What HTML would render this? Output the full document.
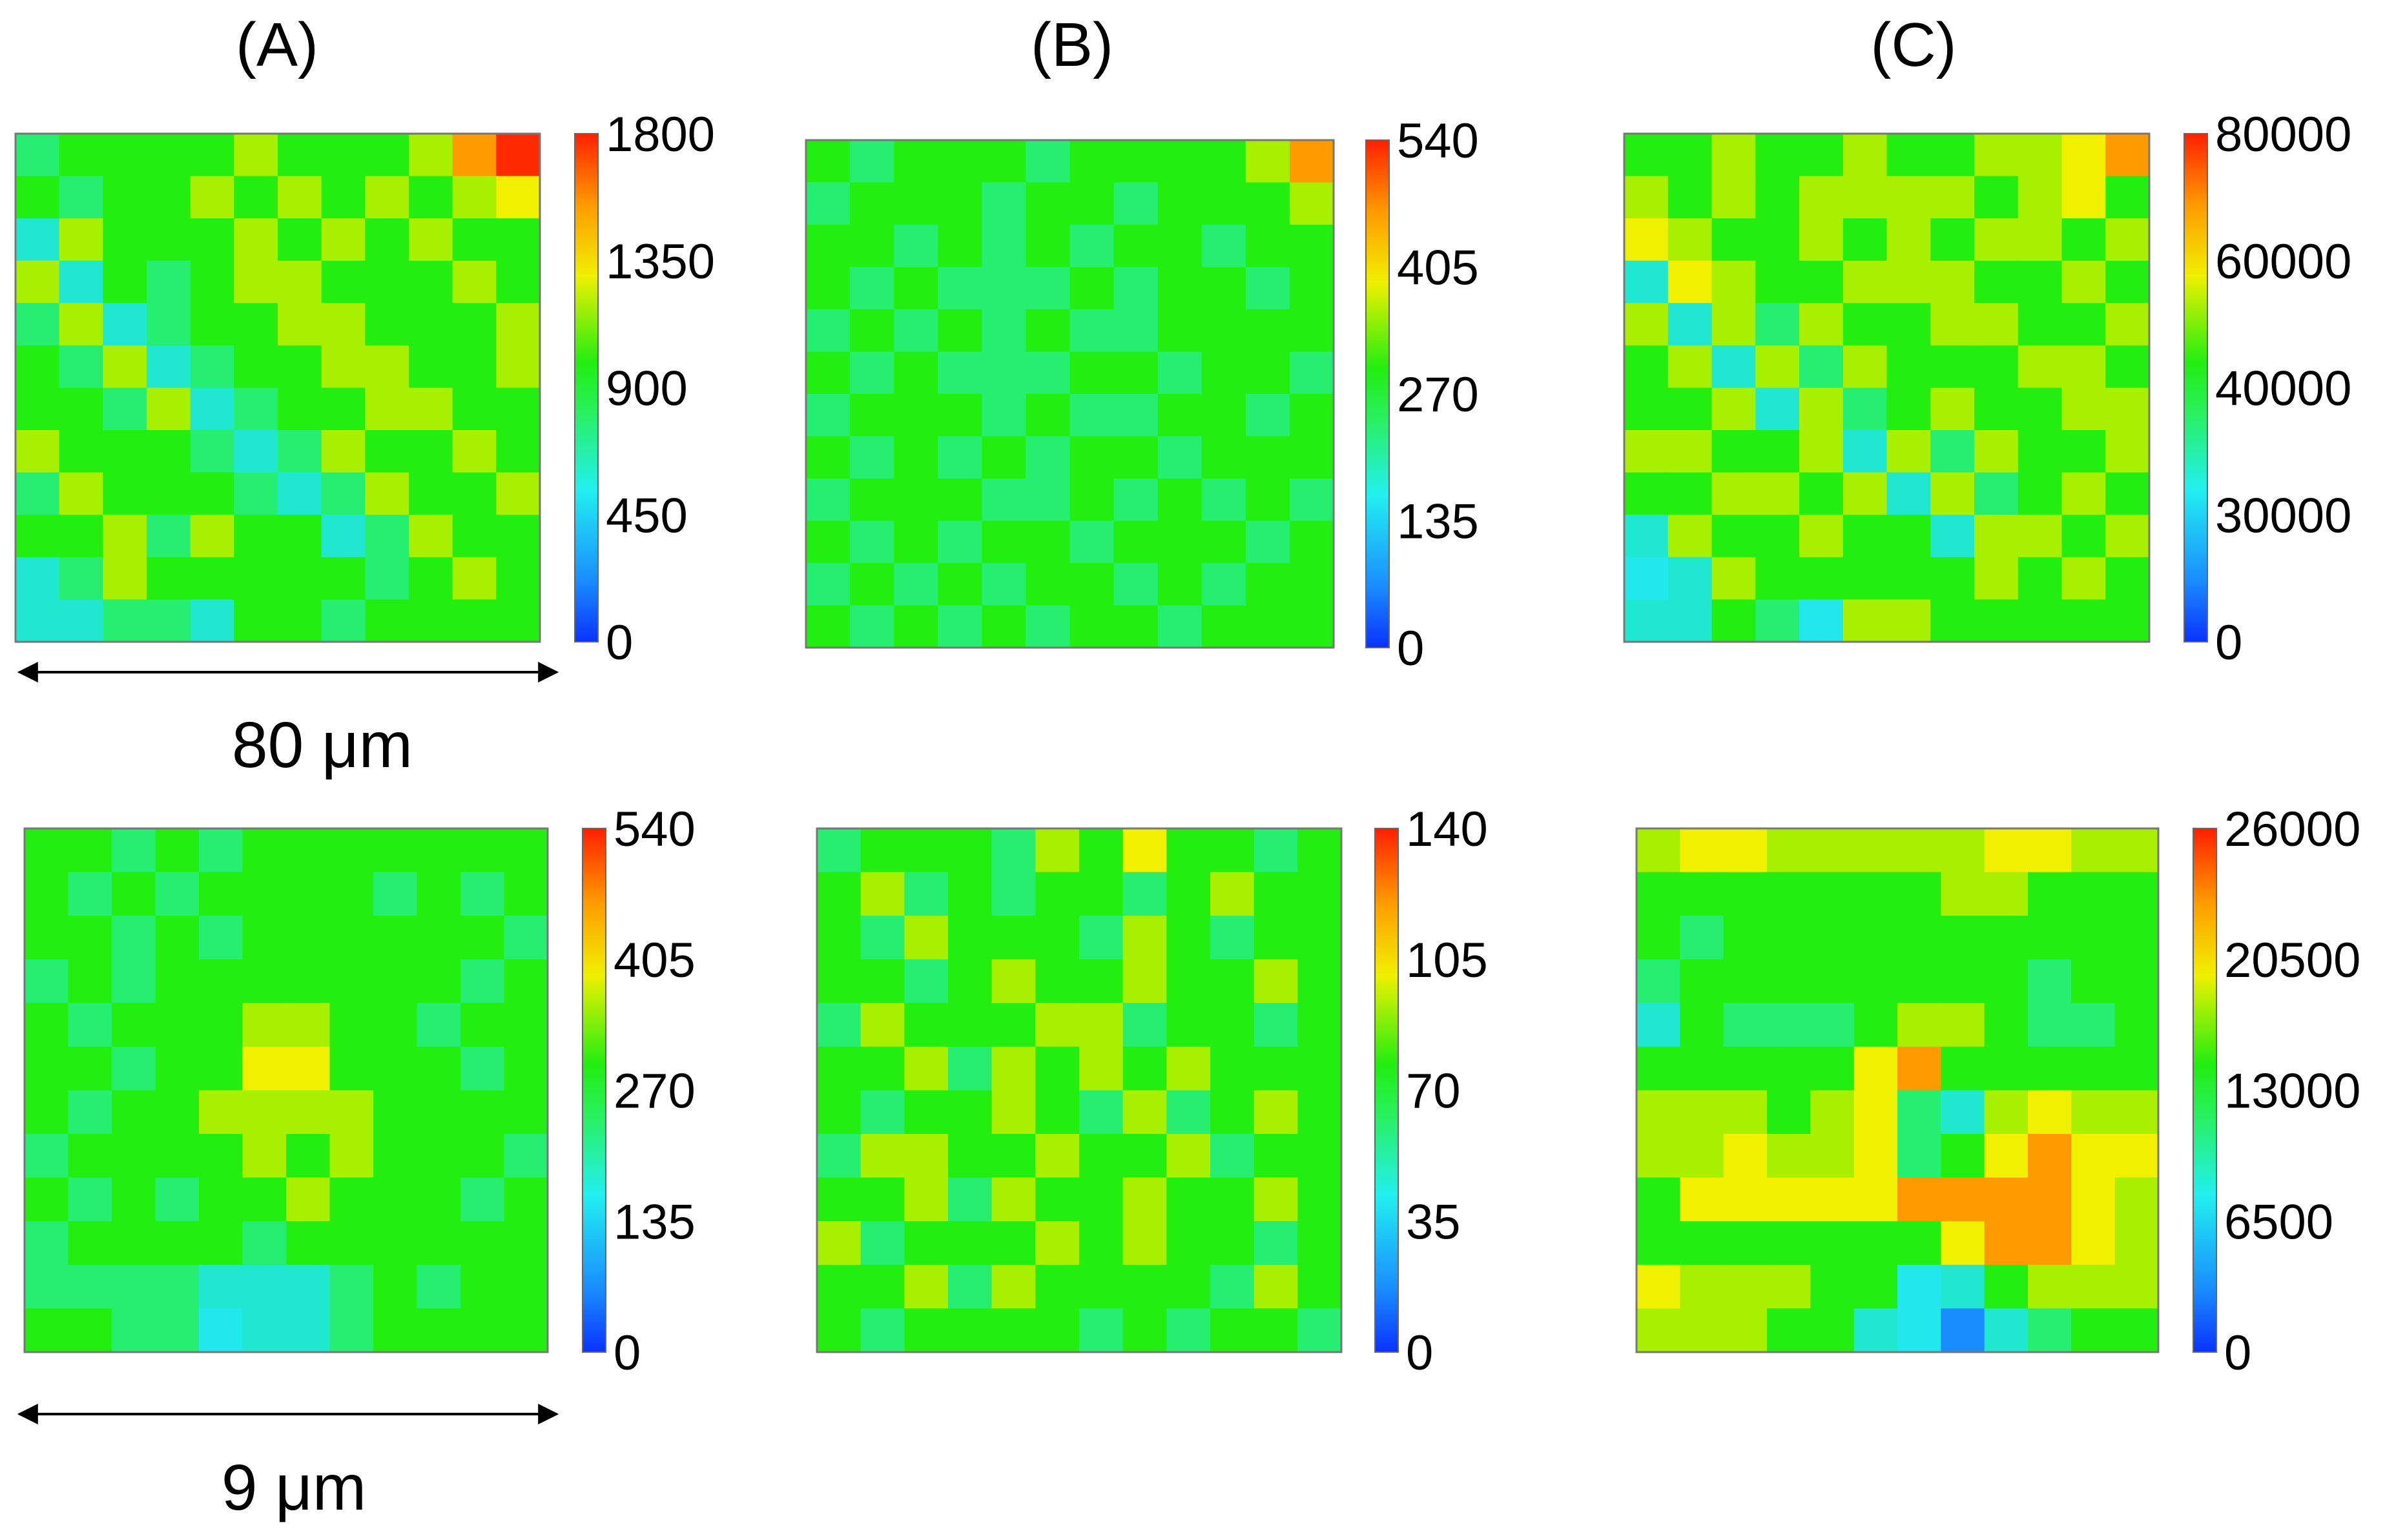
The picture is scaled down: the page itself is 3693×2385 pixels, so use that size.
<!DOCTYPE html>
<html><head><meta charset="utf-8"><style>
html,body{margin:0;padding:0;background:#fff;}
body{width:3693px;height:2380px;overflow:hidden;font-family:"Liberation Sans",sans-serif;}
</style></head><body>
<svg id="fig" width="3693" height="2380" xmlns="http://www.w3.org/2000/svg">
<defs>
<linearGradient id="jet" x1="0" y1="1" x2="0" y2="0">
<stop offset="0" stop-color="#0a32ff"/><stop offset="0.12" stop-color="#1a8cff"/><stop offset="0.3" stop-color="#22f0f0"/>
<stop offset="0.45" stop-color="#28f060"/><stop offset="0.55" stop-color="#22ee10"/><stop offset="0.72" stop-color="#f0f000"/>
<stop offset="0.86" stop-color="#ff9a00"/><stop offset="1" stop-color="#ff2000"/>
</linearGradient>
<marker id="ah" viewBox="0 0 10 10" refX="9" refY="5" markerWidth="8" markerHeight="8" orient="auto-start-reverse"><path d="M0,0 L10,5 L0,10 z" fill="#000"/></marker>
</defs>
<g id="layer"></g>
<text x="429" y="102" font-size="96" text-anchor="middle">(A)</text>
<text x="1660" y="102" font-size="96" text-anchor="middle">(B)</text>
<text x="2963" y="102" font-size="96" text-anchor="middle">(C)</text>
<line x1="30" y1="1041" x2="862" y2="1041" stroke="#000" stroke-width="4" marker-start="url(#ah)" marker-end="url(#ah)"/>
<text x="499" y="1188" font-size="100" text-anchor="middle">80 μm</text>
<line x1="30" y1="2190" x2="862" y2="2190" stroke="#000" stroke-width="4" marker-start="url(#ah)" marker-end="url(#ah)"/>
<text x="455" y="2338" font-size="100" text-anchor="middle">9 μm</text>
</svg>
<script>
const palette=["#0a32ff","#1a8cff","#22e8ee","#20e8d0","#26ee70","#22ee10","#a8f000","#f0f000","#ff9a00","#ff2a00"];
const gridTopA=["455556555689","545565656567","365556565655","635456655565","463455665556","546345566556","554634556655","655543465565","465554346556","556465534655","346555554565","334435545555"];
const gridTopB=["545554555568","455545545556","554545455455","545444545545","454545445555","545444554554","455545445545","545454554555","455544545454","545455455545","454545545455","545454554555"];
const gridTopC=["556556556678","656566665675","765565656656","376556665565","636465566556","563646555665","556364565566","665563646556","556656364565","365565536656","236555556565","335426655555"];
const gridBotA=["554545555555","545455554545","554545555554","454555555545","545556655455","554557755545","545566665555","455556565554","545455655545","455554555555","444433345455","554423345555"];
const gridBotB=["455546575545","564545545655","546555465455","554565565565","465556645545","556465656555","545565464565","466556556455","556465565565","645556565545","556465555465","545555454554"];
const gridBotC=["677666667766","555555566555","545555555555","455555555455","354445665445","555557855555","666567436766","667667457877","577777888876","555555578876","766655235666","666553213455"];
const ticksTopA=["1800","1350","900","450","0"];
const ticksTopB=["540","405","270","135","0"];
const ticksTopC=["80000","60000","40000","30000","0"];
const ticksBotA=["540","405","270","135","0"];
const ticksBotB=["140","105","70","35","0"];
const ticksBotC=["26000","20500","13000","6500","0"];
const panels=[
 {name:"a-80um",grid:gridTopA,x:24,y:207,w:812,h:787,cb:890,ticks:ticksTopA},
 {name:"b-80um",grid:gridTopB,x:1248,y:217,w:817,h:786,cb:2115,ticks:ticksTopB},
 {name:"c-80um",grid:gridTopC,x:2515,y:207,w:813,h:787,cb:3382,ticks:ticksTopC},
 {name:"a-9um",grid:gridBotA,x:38,y:1283,w:810,h:811,cb:902,ticks:ticksBotA},
 {name:"b-9um",grid:gridBotB,x:1265,y:1283,w:812,h:811,cb:2129,ticks:ticksBotB},
 {name:"c-9um",grid:gridBotC,x:2534,y:1283,w:808,h:811,cb:3396,ticks:ticksBotC}
];
const NS="http://www.w3.org/2000/svg";
const layer=document.getElementById("layer");
function mk(t,a){const e=document.createElementNS(NS,t);for(const k in a)e.setAttribute(k,a[k]);return e;}
panels.forEach(p=>{
 const g=mk("g",{});
 
 
 const rows=p.grid.length,cols=p.grid[0].length,cw=p.w/cols,ch=p.h/rows;
 p.grid.forEach((row,r)=>{[...row].forEach((d,c)=>{
  const cell=mk("rect",{x:p.x+c*cw,y:p.y+r*ch,width:cw+0.6,height:ch+0.6,fill:palette[+d]});
  
  
  g.appendChild(cell);
 });});
 const fr=mk("rect",{x:p.x,y:p.y,width:p.w,height:p.h,fill:"none",stroke:"#777","stroke-width":3});
 g.appendChild(fr);
 layer.appendChild(g);
 const cb=mk("rect",{x:p.cb,y:p.y,width:36,height:p.h,fill:"url(#jet)",stroke:"#666","stroke-width":2});
 
 
 layer.appendChild(cb);
 p.ticks.forEach((t,i)=>{
  const yy=p.y+p.h*i/(p.ticks.length-1);
  const tx=mk("text",{x:p.cb+48,y:yy+27,"font-size":76});
  tx.textContent=t;
  
  
  layer.appendChild(tx);
 });
});
</script>
</body></html>
